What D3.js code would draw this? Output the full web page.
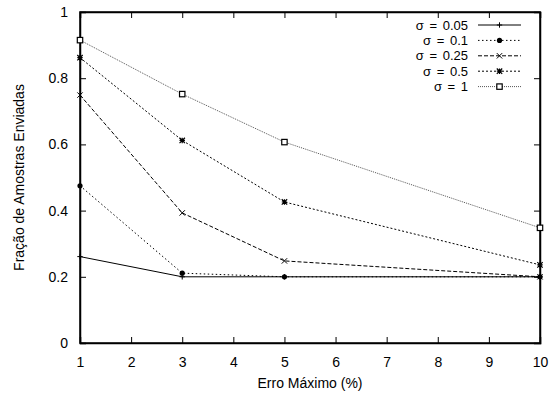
<!DOCTYPE html>
<html>
<head>
<meta charset="utf-8">
<script src="https://cdn.jsdelivr.net/npm/d3@7"></script>
<style>
  body { margin: 0; background: #fff; }
  text { font-family: "Liberation Sans", Arial, Helvetica, sans-serif; fill: #000; }
</style>
</head>
<body>
<div id="chart"></div>
<script>
// x values (Erro Máximo %)
const errors = [1, 3, 5, 10];
const sigmaLabels = ["σ = 0.05", "σ = 0.1", "σ = 0.25", "σ = 0.5", "σ = 1"];
const s005 = [0.261, 0.200, 0.200, 0.200];
const s01 = [0.475, 0.211, 0.200, 0.200];
const s025 = [0.749, 0.393, 0.248, 0.200];
const s05 = [0.862, 0.612, 0.426, 0.236];
const s1 = [0.915, 0.752, 0.607, 0.348];
const xTicks = [1, 2, 3, 4, 5, 6, 7, 8, 9, 10];
const yTicks = [0, 0.2, 0.4, 0.6, 0.8, 1];

const series = [
  { name: sigmaLabels[0], values: s005, dash: "none", color: "#000", marker: "plus" },
  { name: sigmaLabels[1], values: s01, dash: "1.5,2.5", color: "#000", marker: "circle" },
  { name: sigmaLabels[2], values: s025, dash: "4,2", color: "#000", marker: "cross" },
  { name: sigmaLabels[3], values: s05, dash: "2,2", color: "#000", marker: "star" },
  { name: sigmaLabels[4], values: s1, dash: "1,1", color: "#555", marker: "square" }
];

const width = 550, height = 396;
const margin = { top: 12, right: 10, bottom: 53, left: 80 };

const svg = d3.select("#chart").append("svg")
  .attr("width", width)
  .attr("height", height);

const x = d3.scaleLinear().domain([1, 10]).range([margin.left, width - margin.right]);
const y = d3.scaleLinear().domain([0, 1]).range([height - margin.bottom, margin.top]);

// axes with inward ticks, mirrored on top/right
svg.append("g")
  .attr("transform", `translate(0,${y(0)})`)
  .call(d3.axisBottom(x).tickValues(xTicks).tickSize(-6).tickPadding(14).tickFormat(d3.format("d")));
svg.append("g")
  .attr("transform", `translate(0,${y(1)})`)
  .call(d3.axisTop(x).tickValues(xTicks).tickSize(-6).tickFormat(""));
svg.append("g")
  .attr("transform", `translate(${x(1)},0)`)
  .call(d3.axisLeft(y).tickValues(yTicks).tickSize(-6).tickPadding(12).tickFormat(d => d === 0 || d === 1 ? d3.format("d")(d) : d3.format(".1f")(d)));
svg.append("g")
  .attr("transform", `translate(${x(10)},0)`)
  .call(d3.axisRight(y).tickValues(yTicks).tickSize(-6).tickFormat(""));

svg.selectAll(".domain").attr("stroke", "#000").attr("stroke-width", 1.5);
svg.selectAll(".tick line").attr("stroke", "#000").attr("stroke-width", 1);
svg.selectAll(".tick text").attr("font-size", 14).attr("font-family", "Liberation Sans, Arial, sans-serif");

// frame
svg.append("rect")
  .attr("x", x(1)).attr("y", y(1))
  .attr("width", x(10) - x(1)).attr("height", y(0) - y(1))
  .attr("fill", "none").attr("stroke", "#000").attr("stroke-width", 1.5);

function drawMarker(g, type, cx, cy) {
  const s = 2.7;
  if (type === "plus") {
    g.append("path").attr("d", `M${cx - s},${cy}H${cx + s}M${cx},${cy - s}V${cy + s}`)
      .attr("stroke", "#000").attr("stroke-width", 1);
  } else if (type === "circle") {
    g.append("circle").attr("cx", cx).attr("cy", cy).attr("r", 2.6).attr("fill", "#000");
  } else if (type === "cross") {
    g.append("path").attr("d", `M${cx - s},${cy - s}L${cx + s},${cy + s}M${cx - s},${cy + s}L${cx + s},${cy - s}`)
      .attr("stroke", "#000").attr("stroke-width", 1);
  } else if (type === "star") {
    g.append("path").attr("d", `M${cx - s},${cy - s}L${cx + s},${cy + s}M${cx - s},${cy + s}L${cx + s},${cy - s}M${cx - s},${cy}H${cx + s}M${cx},${cy - s}V${cy + s}`)
      .attr("stroke", "#000").attr("stroke-width", 1.2);
  } else if (type === "square") {
    g.append("rect").attr("x", cx - s).attr("y", cy - s).attr("width", 2 * s).attr("height", 2 * s)
      .attr("fill", "#fff").attr("stroke", "#000").attr("stroke-width", 1.2);
  }
}

const line = d3.line().x((d, i) => x(errors[i])).y(d => y(d));

series.forEach(s => {
  const g = svg.append("g");
  g.append("path")
    .attr("d", line(s.values))
    .attr("fill", "none")
    .attr("stroke", s.color)
    .attr("stroke-width", 1)
    .attr("stroke-dasharray", s.dash);
  s.values.forEach((v, i) => drawMarker(g, s.marker, x(errors[i]), y(v)));
});

// legend
const legend = svg.append("g");
series.forEach((s, i) => {
  const ly = 25 + i * 15.4;
  legend.append("text")
    .attr("x", 468).attr("y", ly).attr("dy", "0.35em")
    .attr("text-anchor", "end").attr("font-size", 13)
    .attr("word-spacing", 2)
    .text(s.name);
  legend.append("line")
    .attr("x1", 478).attr("x2", 521).attr("y1", ly).attr("y2", ly)
    .attr("stroke", s.color).attr("stroke-width", 1)
    .attr("stroke-dasharray", s.dash);
  drawMarker(legend, s.marker, 499.5, ly);
});

// axis titles
svg.append("text")
  .attr("x", (x(1) + x(10)) / 2).attr("y", 388)
  .attr("text-anchor", "middle").attr("font-size", 14)
  .text("Erro Máximo (%)");
svg.append("text")
  .attr("transform", `translate(19,${(y(0) + y(1)) / 2}) rotate(-90)`)
  .attr("text-anchor", "middle").attr("dy", "0.35em").attr("font-size", 14)
  .text("Fração de Amostras Enviadas");
</script>
</body>
</html>
